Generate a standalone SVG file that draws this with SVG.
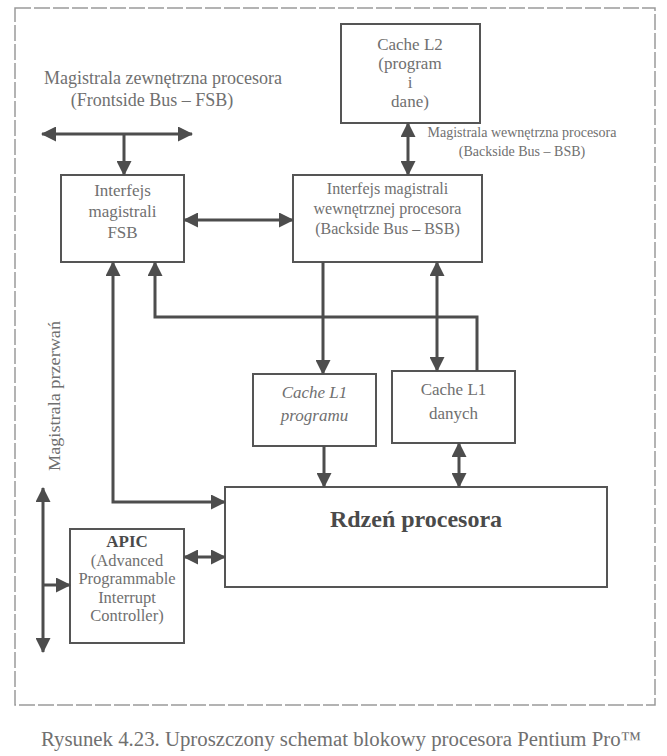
<svg xmlns="http://www.w3.org/2000/svg" width="667" height="756" viewBox="0 0 667 756">
<defs>
<marker id="ah" viewBox="0 0 15 15" refX="14" refY="7.5" markerWidth="15" markerHeight="15" markerUnits="userSpaceOnUse" orient="auto-start-reverse">
<path d="M0,0 L15,7.5 L0,15 z" fill="#4d4d4d"/>
</marker>
</defs>
<style>
.box{fill:none;stroke:#555;stroke-width:2}
.t{font-family:"Liberation Serif","Times New Roman",serif;fill:#707070;text-anchor:middle}
.b{font-weight:bold;fill:#4a4a4a}
.c{fill:none;stroke:#4d4d4d;stroke-width:3}
.frame{fill:none;stroke:#9a9a9a;stroke-width:1.5;stroke-dasharray:16 3}
</style>
<rect width="667" height="756" fill="#fff"/>
<rect class="frame" x="15" y="8" width="640" height="697"/>

<g id="fsb-label">
<text class="t" x="163" y="84" font-size="18">Magistrala zewnętrzna procesora</text>
<text class="t" x="152" y="106" font-size="18">(Frontside Bus – FSB)</text>
</g>
<g id="bsb-label">
<text class="t" x="522" y="137" font-size="14">Magistrala wewnętrzna procesora</text>
<text class="t" x="522" y="156" font-size="14">(Backside Bus – BSB)</text>
</g>
<g id="irq-label">
<text class="t" font-size="17" textLength="150" lengthAdjust="spacingAndGlyphs" transform="translate(60,396) rotate(-90)">Magistrala przerwań</text>
</g>

<g id="cache-l2">
<rect class="box" x="341" y="24" width="139" height="99"/>
<text class="t" x="410" y="50" font-size="17">Cache L2</text>
<text class="t" x="410" y="69" font-size="17">(program</text>
<text class="t" x="410" y="88" font-size="17">i</text>
<text class="t" x="410" y="107" font-size="17">dane)</text>
</g>
<g id="fsb-interface">
<rect class="box" x="61" y="175" width="123" height="87"/>
<text class="t" x="122.5" y="196" font-size="17">Interfejs</text>
<text class="t" x="122.5" y="217" font-size="17">magistrali</text>
<text class="t" x="122.5" y="238" font-size="17">FSB</text>
</g>
<g id="bsb-interface">
<rect class="box" x="293" y="175" width="189" height="87"/>
<text class="t" x="387.5" y="194" font-size="16">Interfejs magistrali</text>
<text class="t" x="387.5" y="214" font-size="16">wewnętrznej procesora</text>
<text class="t" x="387.5" y="234" font-size="16">(Backside Bus – BSB)</text>
</g>
<g id="cache-l1-program">
<rect class="box" x="253" y="374" width="123" height="72"/>
<text class="t" x="314.5" y="398" font-size="17" font-style="italic">Cache L1</text>
<text class="t" x="314.5" y="421" font-size="17" font-style="italic">programu</text>
</g>
<g id="cache-l1-data">
<rect class="box" x="392" y="371" width="123" height="72"/>
<text class="t" x="453.5" y="395" font-size="17">Cache L1</text>
<text class="t" x="453.5" y="419" font-size="17">danych</text>
</g>
<g id="core">
<rect class="box" x="225" y="487" width="382" height="100"/>
<text class="t b" x="416" y="527" font-size="24">Rdzeń procesora</text>
</g>
<g id="apic">
<rect class="box" x="70" y="529" width="114" height="114"/>
<text class="t b" x="127" y="547" font-size="17">APIC</text>
<text class="t" x="127" y="566" font-size="16.5">(Advanced</text>
<text class="t" x="127" y="584" font-size="16.5">Programmable</text>
<text class="t" x="127" y="603" font-size="16.5">Interrupt</text>
<text class="t" x="127" y="621" font-size="16.5">Controller)</text>
</g>

<g id="connectors">
<line class="c" x1="42" y1="134" x2="192" y2="134" marker-start="url(#ah)" marker-end="url(#ah)"/>
<line class="c" x1="124" y1="134" x2="124" y2="175" marker-end="url(#ah)"/>
<line class="c" x1="408" y1="123" x2="408" y2="175" marker-start="url(#ah)" marker-end="url(#ah)"/>
<line class="c" x1="184" y1="220" x2="293" y2="220" marker-start="url(#ah)" marker-end="url(#ah)"/>
<polyline class="c" points="113,262 113,502 225,502" marker-start="url(#ah)" marker-end="url(#ah)"/>
<polyline class="c" points="155,262 155,317 477,317 477,371" marker-start="url(#ah)"/>
<line class="c" x1="323" y1="262" x2="323" y2="374" marker-end="url(#ah)"/>
<line class="c" x1="437" y1="262" x2="437" y2="371" marker-start="url(#ah)" marker-end="url(#ah)"/>
<line class="c" x1="324" y1="446" x2="324" y2="487" marker-end="url(#ah)"/>
<line class="c" x1="459" y1="443" x2="459" y2="487" marker-start="url(#ah)" marker-end="url(#ah)"/>
<line class="c" x1="184" y1="557" x2="225" y2="557" marker-start="url(#ah)" marker-end="url(#ah)"/>
<line class="c" x1="43" y1="488" x2="43" y2="652" marker-start="url(#ah)" marker-end="url(#ah)"/>
<line class="c" x1="43" y1="585" x2="70" y2="585" marker-end="url(#ah)"/>
</g>

<g id="caption">
<text class="t" x="341" y="746" font-size="20.8" fill="#606060">Rysunek 4.23. Uproszczony schemat blokowy procesora Pentium Pro™</text>
</g>
</svg>
